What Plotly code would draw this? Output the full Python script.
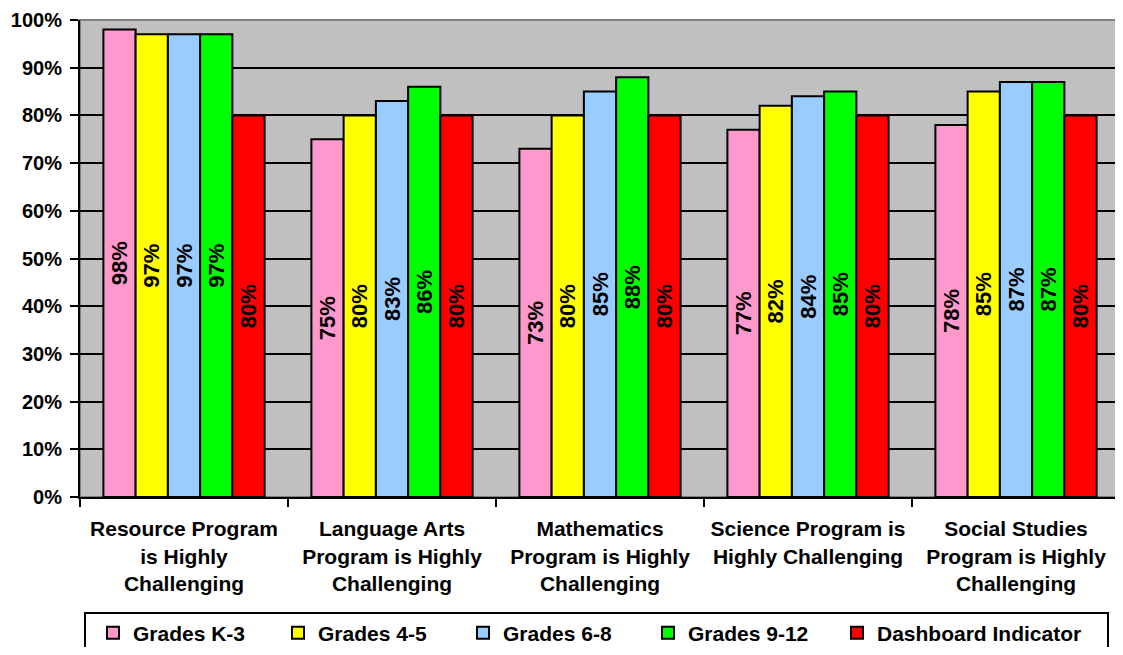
import plotly.graph_objects as go

categories = [
    "Resource Program<br>is Highly<br>Challenging",
    "Language Arts<br>Program is Highly<br>Challenging",
    "Mathematics<br>Program is Highly<br>Challenging",
    "Science Program is<br>Highly Challenging",
    "Social Studies<br>Program is Highly<br>Challenging",
]
series_names = ["Grades K-3", "Grades 4-5", "Grades 6-8", "Grades 9-12", "Dashboard Indicator"]
grades_k3 = [98, 75, 73, 77, 78]
grades_45 = [97, 80, 80, 82, 85]
grades_68 = [97, 83, 85, 84, 87]
grades_912 = [97, 86, 88, 85, 87]
dashboard = [80, 80, 80, 80, 80]
series_values = [grades_k3, grades_45, grades_68, grades_912, dashboard]
colors = ["#FF99CC", "#FFFF00", "#99CCFF", "#00FF00", "#FF0000"]
y_ticks = list(range(0, 101, 10))

FONT = "Liberation Sans, Arial, sans-serif"

# page has an 8px body margin; size the figure so nothing scrolls
W, H = 1115, 639
OFF = 8
PLOT_TOP = 20      # page px
PLOT_BOTTOM = 497  # page px
PLOT_H = PLOT_BOTTOM - PLOT_TOP

fig = go.Figure()
for i, (name, vals, col) in enumerate(zip(series_names, series_values, colors)):
    fig.add_trace(go.Bar(
        name=name,
        x=categories,
        y=vals,
        marker=dict(color=col, line=dict(color="black", width=2)),
        text=[f"{v}%" for v in vals],
        textposition="inside",
        insidetextanchor="middle",
        textangle=-90,
        constraintext="none",
        textfont=dict(family=FONT, size=22, color="black", weight="bold"),
        legend="legend2" if i == len(series_names) - 1 else "legend",
    ))

legend_common = dict(
    orientation="h",
    xref="container", yref="container",
    xanchor="left",
    y=1 - (633 - OFF) / H, yanchor="middle",
    font=dict(family=FONT, size=21, color="black", weight="bold"),
    bgcolor="rgba(0,0,0,0)",
    borderwidth=0,
    itemwidth=30,
    traceorder="normal",
)

fig.update_layout(
    width=W, height=H,
    margin=dict(l=80 - OFF, r=3, t=PLOT_TOP - OFF, b=H - (PLOT_BOTTOM - OFF), autoexpand=False),
    paper_bgcolor="white",
    plot_bgcolor="#C0C0C0",
    barmode="group",
    bargap=0.225,
    bargroupgap=0,
    font=dict(family=FONT, color="black", weight="bold"),
    showlegend=True,
    legend=dict(legend_common, x=(133 - 48) / W, entrywidthmode="pixels", entrywidth=140),
    legend2=dict(legend_common, x=(877 - 48) / W),
)

fig.update_yaxes(
    range=[0, 100],
    tickvals=y_ticks,
    ticktext=[f"{v}%" for v in y_ticks],
    tickfont=dict(family=FONT, size=20, color="black", weight="bold"),
    showgrid=True, gridcolor="black", gridwidth=2,
    showline=True, linecolor="black", linewidth=2,
    ticks="outside", ticklen=8, tickwidth=2, tickcolor="black",
    zeroline=False,
    automargin=False,
    ticklabelstandoff=4,
    ticklabeloverflow="allow",
)
fig.update_xaxes(
    tickfont=dict(family=FONT, size=21, color="black", weight="bold"),
    showline=True, linecolor="black", linewidth=2,
    ticks="outside", tickson="boundaries", ticklen=8, tickwidth=2, tickcolor="black",
    ticklabelstandoff=12,
    automargin=False,
)

# gray plot-area border (top/right)
fig.add_shape(type="rect", xref="paper", yref="paper", x0=0, x1=1, y0=0, y1=1,
              line=dict(color="#808080", width=2), layer="below")
# legend box
fig.add_shape(type="rect", xref="paper", yref="paper",
              x0=(85 - 80) / 1040, x1=(1108 - 80) / 1040,
              y0=(PLOT_BOTTOM - 665) / PLOT_H, y1=(PLOT_BOTTOM - 613) / PLOT_H,
              line=dict(color="black", width=2), fillcolor="rgba(0,0,0,0)", layer="above")

fig.write_html("out.html")
